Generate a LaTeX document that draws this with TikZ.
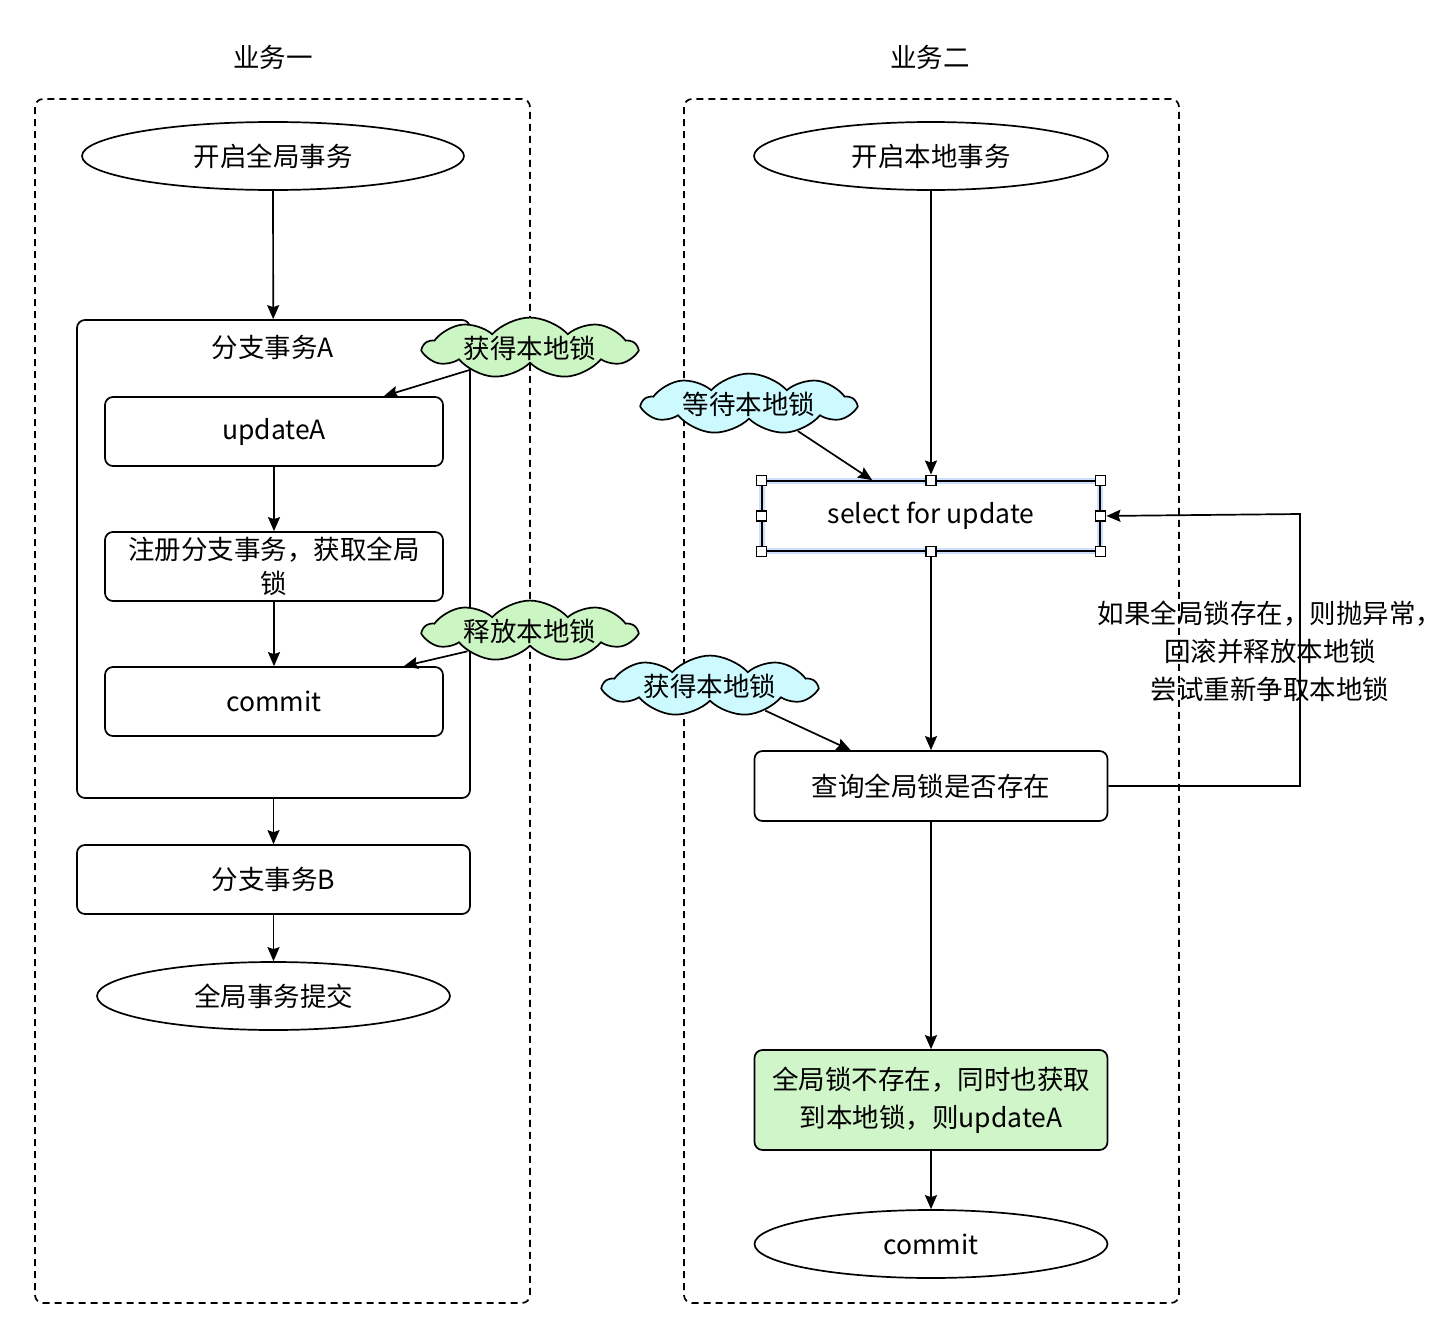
\documentclass[tikz,border=0pt]{standalone}
\usepackage{fontspec}
\setmainfont{Noto Sans CJK SC}
\usetikzlibrary{arrows.meta,shapes.geometric,shapes.symbols}
\definecolor{cloudgreen}{RGB}{204,245,196}
\definecolor{cloudcyan}{RGB}{204,250,255}
\definecolor{boxgreen}{RGB}{208,245,200}
\definecolor{selglow}{RGB}{205,222,255}
\begin{document}
\begin{tikzpicture}[x=1pt, y=-1pt, line width=1.7pt,
    every node/.style={font=\fontsize{26.5}{38}\selectfont, align=center},
    arr/.style={-{Stealth[length=14pt, width=12pt, inset=2pt]}},
    term/.style={draw, ellipse, inner sep=0pt, minimum height=68pt},
    box/.style={draw, rounded corners=8pt, inner sep=0pt, minimum height=69pt},
    grp/.style={draw, rounded corners=8pt, minimum width=393pt, minimum height=478pt},
    lane/.style={draw, dashed, dash pattern=on 7pt off 5pt, rounded corners=8pt},
    lock/.style={draw, cloud, cloud puffs=9, cloud puff arc=95, cloud ignores aspect, inner sep=0pt,
                 minimum width=212pt, minimum height=40pt},
    handle/.style={draw, fill=white, line width=1.2pt, inner sep=0pt, minimum size=10pt}]
  \useasboundingbox (0,0) rectangle (1452,1344);
  % lanes
  \node (t1) at (273,57) {业务一};
  \node (t2) at (930,57) {业务二};
  \draw[lane] (35,99) rectangle (530,1303);
  \draw[lane] (684,99) rectangle (1179,1303);
  % Lane 1: global transaction
  \node[term, minimum width=382pt] (startA) at (273,156) {开启全局事务};
  \node[grp] (branchA) at (273.5,559) {};
  \node (labA) at (273,347) {分支事务A};
  \node[box, minimum width=338pt] (updA) at (274,431.5) {updateA};
  \node[box, minimum width=338pt] (regA) at (274,566.5) {注册分支事务，获取全局\\[-4pt]锁};
  \node[box, minimum width=338pt] (commitA) at (274,701.5) {commit};
  \node[box, minimum width=393pt] (branchB) at (273.5,879.5) {分支事务B};
  \node[term, minimum width=353pt] (endA) at (273.5,996) {全局事务提交};
  \draw[arr] (startA) -- (branchA);
  \draw[arr] (updA) -- (regA);
  \draw[arr] (regA) -- (commitA);
  \draw[arr] (branchA) -- (branchB);
  \draw[arr] (branchB) -- (endA);
  % Lane 2: local transaction
  \node[term, minimum width=354pt] (startB) at (931,156) {开启本地事务};
  \node[box, minimum width=338pt, minimum height=70pt, rounded corners=2pt,
        preaction={draw=selglow, line width=6pt}] (sel) at (931,516) {select for update};
  \foreach \a/\n in {north west/1, north/2, north east/3, east/4, south east/5, south/6, south west/7, west/8}
    \node[handle] (hnd\n) at (sel.\a) {};
  \node[box, minimum width=353pt, minimum height=70pt] (query) at (931,786) {查询全局锁是否存在};
  \node[box, minimum width=353pt, minimum height=100pt, fill=boxgreen] (updB) at (931,1100) {全局锁不存在，同时也获取\\到本地锁，则updateA};
  \node[term, minimum width=353pt] (commitB) at (931,1244) {commit};
  \draw[arr] (startB) -- (hnd2);
  \draw[arr] (hnd6) -- (query);
  \draw[arr] (query) -- (updB);
  \draw[arr] (updB) -- (commitB);
  % retry loop
  \coordinate (lp) at (1300,514);
  \draw[arr] (query.east) -| (lp) -- (hnd4);
  \node (note) at (1270,651) {如果全局锁存在，则抛异常，\\回滚并释放本地锁\\尝试重新争取本地锁};
  % lock clouds
  \node[lock, fill=cloudgreen] (getA) at (530,348) {获得本地锁};
  \node[lock, fill=cloudgreen] (relA) at (530,631) {释放本地锁};
  \node[lock, fill=cloudcyan] (waitB) at (749,404) {等待本地锁};
  \node[lock, fill=cloudcyan] (getB) at (710,686) {获得本地锁};
  \draw[arr] (getA.200) -- ([xshift=-60pt]updA.north east);
  \draw[arr] (relA.198) -- ([xshift=-40pt]commitA.north east);
  \draw[arr] (waitB.331) -- ([xshift=111pt]sel.north west);
  \draw[arr] (getB.336) -- ([xshift=97pt]query.north west);
\end{tikzpicture}
\end{document}
